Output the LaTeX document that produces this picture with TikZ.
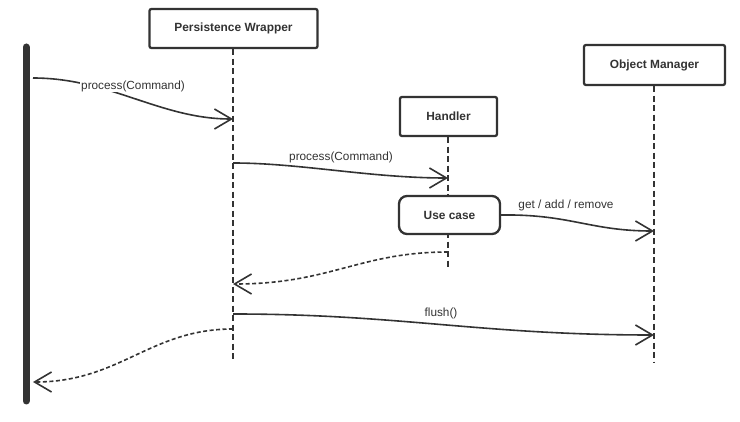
\documentclass[tikz,border=0pt]{standalone}
\usepackage{fontspec}
\setmainfont{Liberation Sans}
\usetikzlibrary{arrows.meta}
\definecolor{ink}{HTML}{333333}
\tikzset{
  objbox/.style={draw=ink, line width=2.3pt, fill=white, rounded corners=2pt, text=ink, font=\fontsize{11.9}{14}\selectfont\bfseries, inner sep=0pt},
  ucbox/.style={objbox, rounded corners=8pt},
  lifeline/.style={draw=ink, line width=1.7pt, dash pattern=on 6pt off 3.5pt},
  msg/.style={draw=ink, line width=1.6pt, -{Straight Barb[length=17pt,width=20pt,line width=1.6pt]}},
  retmsg/.style={msg, dash pattern=on 4pt off 2.5pt},
  lbl/.style={text=ink, font=\fontsize{11.8}{14}\selectfont, inner sep=1pt}
}
\begin{document}
\begin{tikzpicture}[x=1pt,y=-1pt]
\useasboundingbox (0,0) rectangle (740,422);
% actor bar
\coordinate (bartop) at (26,47);
\coordinate (barbot) at (26,401);
\draw[ink, line width=7pt, line cap=round] (bartop) -- (barbot);
% objects
\node[objbox, minimum width=168pt, minimum height=39pt] (pw) at (233.5,28.5) {Persistence Wrapper};
\node[objbox, minimum width=97pt, minimum height=39pt] (h) at (448.5,116.5) {Handler};
\node[objbox, minimum width=141pt, minimum height=40pt] (om) at (654.5,65) {Object Manager};
% lifelines
\coordinate (pwend) at (233,360);
\coordinate (hend) at (448,268);
\coordinate (omend) at (654,362);
\draw[lifeline] (pw.south -| pwend) -- (pwend);
\draw[lifeline] (h.south -| hend) -- (hend);
\draw[lifeline] (om.south -| omend) -- (omend);
% use case
\node[ucbox, minimum width=101pt, minimum height=38pt] (uc) at (449.5,215) {Use case};
% message coordinates
\coordinate (m1s) at (33,78);
\coordinate (m1e) at (233,119);
\coordinate (m2s) at (233,163);
\coordinate (m2e) at (448,178);
\coordinate (m3e) at (654,231);
\coordinate (m4s) at (448,252);
\coordinate (m4e) at (233,284);
\coordinate (m5s) at (233,314);
\coordinate (m5e) at (654,335);
\coordinate (m6s) at (233,329);
\coordinate (m6e) at (33,382);
% messages
\draw[msg] (m1s) .. controls (110,78) and (160,119) .. (m1e);
\node[lbl, fill=white] (l1) at (133,86) {process(Command)};
\draw[msg] (m2s) .. controls (300,163) and (370,178) .. (m2e);
\node[lbl] (l2) at (341,157) {process(Command)};
\draw[msg] (uc.east) .. controls (570,214) and (590,231) .. (m3e);
\node[lbl] (l3) at (566,205) {get / add / remove};
\draw[retmsg] (m4s) .. controls (360,252) and (330,284) .. (m4e);
\draw[msg] (m5s) .. controls (400,314) and (480,335) .. (m5e);
\node[lbl] (l5) at (441,313) {flush()};
\draw[retmsg] (m6s) .. controls (150,329) and (120,382) .. (m6e);
\end{tikzpicture}
\end{document}
